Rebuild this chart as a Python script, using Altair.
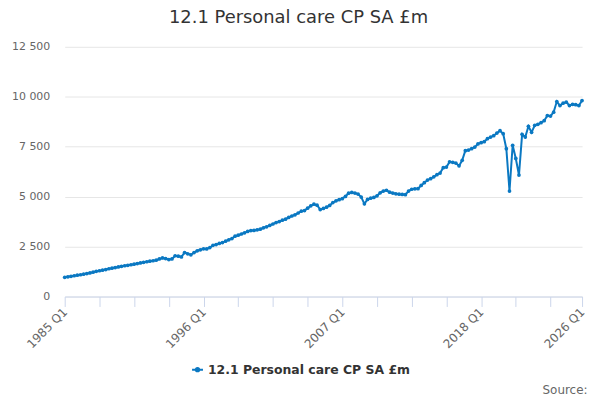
import altair as alt
import pandas as pd

# quarterly values, 1985 Q1 .. 2026 Q1
values = [
    960, 985, 1010, 1040,      # 1985
    1070, 1090, 1120, 1150,    # 1986
    1180, 1220, 1260, 1290,    # 1987
    1320, 1350, 1390, 1420,    # 1988
    1450, 1480, 1510, 1540,    # 1989
    1560, 1590, 1620, 1650,    # 1990
    1680, 1710, 1740, 1770,    # 1991
    1790, 1820, 1880, 1930,    # 1992
    1900, 1850, 1880, 2040,    # 1993
    2020, 1980, 2200, 2140,    # 1994
    2090, 2200, 2290, 2340,    # 1995
    2390, 2380, 2450, 2560,    # 1996
    2600, 2660, 2700, 2770,    # 1997
    2840, 2900, 3020, 3070,    # 1998
    3130, 3190, 3260, 3300,    # 1999
    3310, 3340, 3370, 3440,    # 2000
    3490, 3560, 3630, 3700,    # 2001
    3750, 3820, 3870, 3960,    # 2002
    4030, 4090, 4180, 4270,    # 2003
    4300, 4420, 4540, 4620,    # 2004
    4570, 4350, 4410, 4470,    # 2005
    4560, 4700, 4790, 4850,    # 2006
    4900, 5010, 5170, 5210,    # 2007
    5180, 5130, 4980, 4640,    # 2008
    4860, 4920, 4960, 5040,    # 2009
    5190, 5280, 5320, 5220,    # 2010
    5180, 5140, 5120, 5110,    # 2011
    5100, 5280, 5370, 5390,    # 2012
    5400, 5560, 5700, 5830,    # 2013
    5900, 5990, 6100, 6180,    # 2014
    6450, 6480, 6740, 6720,    # 2015
    6680, 6540, 6820, 7300,    # 2016
    7330, 7400, 7480, 7640,    # 2017
    7700, 7750, 7900, 7980,    # 2018
    8050, 8180, 8300, 8150,    # 2019
    7400, 5280, 7570, 6910,    # 2020
    6080, 8120, 7980, 8520,    # 2021
    8220, 8570, 8620, 8700,    # 2022
    8800, 9060, 9030, 9230,    # 2023
    9760, 9560, 9680, 9730,    # 2024
    9560, 9620, 9600, 9560,    # 2025
    9810,                      # 2026 Q1
]
quarters = [f"{1985 + i // 4} Q{i % 4 + 1}" for i in range(len(values))]
tick_quarters = [quarters[i] for i in range(0, len(quarters), 11)] + [quarters[-1]]
label_quarters = ["1985 Q1", "1996 Q1", "2007 Q1", "2018 Q1", "2026 Q1"]
y_ticks = [0, 2500, 5000, 7500, 10000, 12500]
series_name = "12.1 Personal care CP SA £m"

df = pd.DataFrame({"quarter": quarters, "value": values, "series": series_name})

blue = "#0a78c2"
label_list = "[" + ",".join(f"'{q}'" for q in label_quarters) + "]"

chart = alt.Chart(df).mark_line(
    strokeWidth=2, point=alt.OverlayMarkDef(size=14, filled=True, color=blue)
).encode(
    x=alt.X("quarter:O", sort=None,
            scale=alt.Scale(type="point", padding=0),
            axis=alt.Axis(values=tick_quarters,
                          labelExpr=f"indexof({label_list}, datum.value) >= 0 ? datum.value : ''",
                          labelAngle=-45, labelAlign="right", labelBaseline="middle",
                          labelFontSize=12, labelColor="#666666", labelPadding=3,
                          labelOverlap=False, labelFont="DejaVu Sans",
                          domainColor="#ccd6eb", tickColor="#ccd6eb", tickSize=10,
                          grid=False,
                          title="Source:", titleFont="DejaVu Sans", titleFontSize=12,
                          titleFontWeight="normal", titleColor="#666666",
                          titleAlign="right", titleAnchor="end",
                          titleX=525, titleY=97, titleBaseline="alphabetic")),
    y=alt.Y("value:Q",
            scale=alt.Scale(domain=[0, 12500], nice=False),
            axis=alt.Axis(values=y_ticks, title=None,
                          labelExpr="replace(format(datum.value, ','), ',', ' ')",
                          labelFontSize=11, labelColor="#666666", labelFont="DejaVu Sans",
                          labelPadding=15, domain=False, ticks=False,
                          gridColor="#e6e6e6")),
    color=alt.Color("series:N", scale=alt.Scale(range=[blue]),
                    legend=alt.Legend(title=None, orient="none", legendX=127, legendY=318,
                                      symbolType="M-1,0L1,0M-0.3,0A0.3,0.3 0 1,0 0.3,0A0.3,0.3 0 1,0 -0.3,0",
                                      symbolSize=120, symbolStrokeWidth=2,
                                      symbolFillColor=blue, symbolStrokeColor=blue,
                                      labelFont="DejaVu Sans", labelFontSize=12.5,
                                      labelFontWeight="bold", labelColor="#333333",
                                      labelLimit=400)),
).properties(
    width=520, height=251,
    title=alt.Title(series_name, font="DejaVu Sans", fontSize=18, fontWeight="normal",
                    color="#333333", anchor="middle", dx=-25, offset=14),
    autosize=alt.AutoSizeParams(type="none"),
    padding={"left": 57, "top": 38, "right": 10, "bottom": 100},
).configure_view(stroke=None)

chart.save("out.html", embed_options={"renderer": "svg", "actions": False})
